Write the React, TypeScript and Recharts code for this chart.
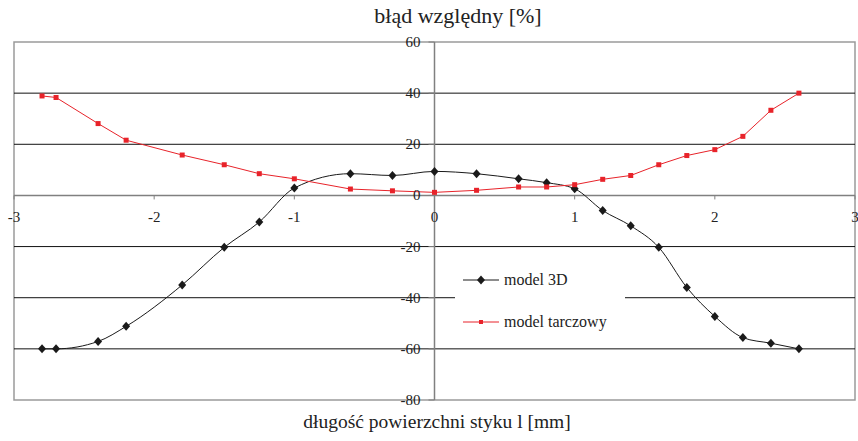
import React from "react";
import {
  LineChart,
  Line,
  XAxis,
  YAxis,
  ReferenceLine,
  ReferenceArea,
} from "recharts";

const dlugosc = [
  -2.8, -2.7, -2.4, -2.2, -1.8, -1.5, -1.25, -1.0, -0.6, -0.3, 0, 0.3, 0.6,
  0.8, 1.0, 1.2, 1.4, 1.6, 1.8, 2.0, 2.2, 2.4, 2.6,
];
const model3D = [
  -60, -60, -57.1, -51.2, -35, -20.3, -10.4, 2.9, 8.5, 7.8, 9.4, 8.5, 6.5, 5.0,
  2.6, -5.9, -11.9, -20.3, -36, -47.3, -55.6, -57.8, -60,
];
const modelTarczowy = [
  38.9, 38.3, 28.1, 21.6, 15.8, 12.0, 8.5, 6.5, 2.5, 1.8, 1.2, 2.0, 3.3, 3.3,
  4.2, 6.3, 7.8, 12.0, 15.6, 17.9, 23.1, 33.3, 40,
];
const xTicks = [-3, -2, -1, 0, 1, 2, 3];
const yTicks = [60, 40, 20, 0, -20, -40, -60, -80];
const gridLines = [40, 20, -20, -40, -60];

const data = dlugosc.map((x, i) => ({
  x,
  m3d: model3D[i],
  tarcz: modelTarczowy[i],
}));

const W = 858;
const H = 441;
const margin = { top: 42, right: 3, bottom: 40, left: 13 };
const plotL = 14;
const plotW = W - plotL - margin.right;
const plotH = H - margin.top - 41;
const zeroX = plotL + plotW / 2;
const zeroY = margin.top + (plotH * 60) / 140;
const font = "Liberation Serif, DejaVu Serif, serif";

const XTick = (props: any) => {
  const { x, payload } = props;
  return (
    <g>
      <line x1={x} x2={x} y1={zeroY} y2={zeroY + 4} stroke="#808080" />
      <text
        x={x}
        y={zeroY + 27}
        textAnchor="middle"
        style={{ fontFamily: font }}
        fontSize={15}
        fill="#222"
      >
        {payload.value}
      </text>
    </g>
  );
};

const YTick = (props: any) => {
  const { y, payload } = props;
  return (
    <g>
      <line x1={zeroX - 6} x2={zeroX} y1={y} y2={y} stroke="#808080" />
      <text
        x={zeroX - 14}
        y={y}
        dy={5}
        textAnchor="end"
        style={{ fontFamily: font }}
        fontSize={15}
        fill="#222"
      >
        {payload.value}
      </text>
    </g>
  );
};

const Diamond = (props: any) => {
  const { cx, cy, index } = props;
  if (cx == null || cy == null) return null;
  return (
    <polygon
      key={index}
      points={`${cx},${cy - 4.5} ${cx + 4},${cy} ${cx},${cy + 4.5} ${cx - 4},${cy}`}
      fill="#1a1a1a"
    />
  );
};

const Kwadrat = (props: any) => {
  const { cx, cy, index } = props;
  if (cx == null || cy == null) return null;
  return (
    <rect key={index} x={cx - 2.5} y={cy - 2.5} width={5} height={5} fill="#e8232a" />
  );
};

const legendItems = [
  { name: "model 3D", color: "#1a1a1a", top: 19, diamond: true },
  { name: "model tarczowy", color: "#e8232a", top: 61, diamond: false },
];

const Legenda = () => (
  <div
    style={{
      position: "absolute",
      left: 455,
      top: 254,
      background: "#fff",
      width: 170,
      height: 88,
      fontFamily: font,
      fontSize: 16,
      color: "#222",
    }}
  >
    {legendItems.map((e) => (
      <div
        key={e.name}
        style={{ position: "absolute", left: 8, top: e.top, display: "flex", alignItems: "center" }}
      >
        <svg width={36} height={14}>
          <line x1={0} x2={36} y1={7} y2={7} stroke={e.color} />
          {e.diamond ? (
            <polygon points="18,2.5 22,7 18,11.5 14,7" fill={e.color} />
          ) : (
            <rect x={16} y={5} width={4} height={4} fill={e.color} />
          )}
        </svg>
        <span style={{ marginLeft: 5, lineHeight: "14px", fontFamily: font }}>{e.name}</span>
      </div>
    ))}
  </div>
);

export default function App() {
  return (
    <div style={{ position: "absolute", left: 0, top: 0, width: W, height: H, background: "#fff", fontFamily: font }}>
      <div
        style={{
          position: "absolute",
          left: 0,
          width: W,
          top: 3,
          textAlign: "center",
          fontFamily: font,
          fontSize: 22,
          color: "#222",
          paddingLeft: 58,
          boxSizing: "border-box",
        }}
      >
        błąd względny [%]
      </div>
      <LineChart width={W} height={H} data={data} margin={margin}>
        <ReferenceArea
          x1={-3}
          x2={3}
          y1={-80}
          y2={60}
          fill="none"
          stroke="#9a9a9a"
          strokeWidth={1.5}
          fillOpacity={0}
        />
        {gridLines.map((v) => (
          <ReferenceLine key={v} y={v} stroke="#111" strokeWidth={1} />
        ))}
        <ReferenceLine y={0} stroke="#808080" strokeWidth={1.5} />
        <ReferenceLine x={0} stroke="#808080" strokeWidth={1.5} />
        <XAxis
          type="number"
          dataKey="x"
          domain={[-3, 3]}
          ticks={xTicks}
          height={1}
          axisLine={false}
          tickLine={false}
          tick={XTick}
          interval={0}
        />
        <YAxis
          type="number"
          domain={[-80, 60]}
          ticks={yTicks}
          width={1}
          axisLine={false}
          tickLine={false}
          tick={YTick}
          interval={0}
        />
        <Line
          dataKey="m3d"
          type="monotone"
          stroke="#1a1a1a"
          strokeWidth={1}
          dot={<Diamond />}
          isAnimationActive={false}
        />
        <Line
          dataKey="tarcz"
          type="linear"
          stroke="#e8232a"
          strokeWidth={1}
          dot={<Kwadrat />}
          isAnimationActive={false}
        />
      </LineChart>
      <Legenda />
      <div
        style={{
          position: "absolute",
          left: 0,
          width: W,
          top: 411,
          textAlign: "center",
          fontFamily: font,
          fontSize: 19.5,
          color: "#222",
          paddingLeft: 16,
          boxSizing: "border-box",
        }}
      >
        długość powierzchni styku l [mm]
      </div>
    </div>
  );
}
